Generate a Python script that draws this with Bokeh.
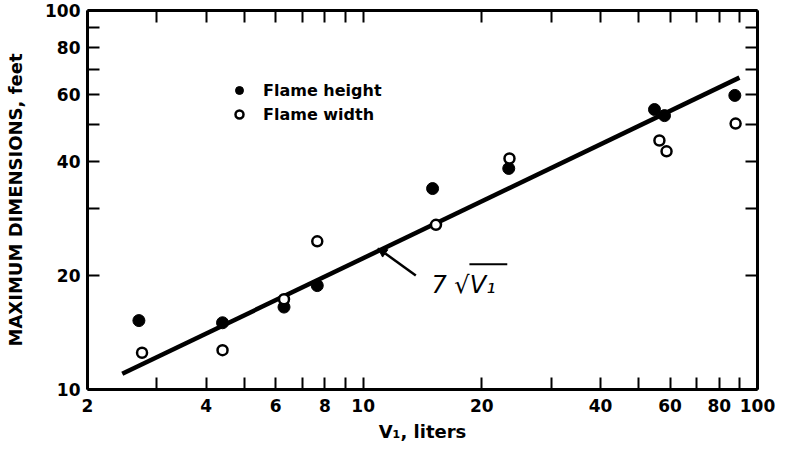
from bokeh.plotting import figure
from bokeh.models import (Range1d, LogAxis, FixedTicker, CustomJSTickFormatter, Legend,
                          LegendItem, Arrow, NormalHead, Label)
from bokeh.embed import file_html
from bokeh.resources import INLINE

# ---- data ----
height_x = [2.7, 4.4, 6.3, 7.65, 15.0, 23.4, 54.8, 58.1, 87.6]
height_y = [15.2, 15.0, 16.5, 18.8, 33.9, 38.3, 54.8, 52.8, 59.7]
width_x = [2.75, 4.4, 6.3, 7.65, 15.3, 23.5, 56.4, 58.8, 88.0]
width_y = [12.5, 12.7, 17.3, 24.6, 27.2, 40.7, 45.4, 42.5, 50.3]
fit_x = [2.45, 90.0]
fit_y = [11.0, 66.5]

x_major = [2, 4, 6, 8, 10, 20, 40, 60, 80, 100]
x_labels = ["2", "4", "6", "8", "10", "20", "40", "60", "80", "100"]
x_minor = [3, 5, 7, 9, 30, 50, 70, 90]
y_major = [10, 20, 40, 60, 80, 100]
y_labels = ["10", "20", "40", "60", "80", "100"]
y_minor = [30, 50, 70, 90]

FONT = "DejaVu Sans"

p = figure(frame_width=670, frame_height=379, x_axis_type="log", y_axis_type="log",
           x_range=Range1d(2, 100), y_range=Range1d(10, 100),
           output_backend="svg", toolbar_location=None,
           min_border_left=87, min_border_right=22, min_border_top=10, min_border_bottom=57)
p.grid.visible = False
p.outline_line_color = None
p.background_fill_color = "white"


def fmt(vals, labs):
    return CustomJSTickFormatter(args=dict(vals=vals, labs=labs),
                                 code="const i = vals.indexOf(tick); return i >= 0 ? labs[i] : '';")


def style(ax, labelled):
    ax.axis_line_width = 3
    ax.axis_line_color = "black"
    ax.major_tick_in = 12
    ax.major_tick_out = 0
    ax.minor_tick_in = 12
    ax.minor_tick_out = 0
    ax.major_tick_line_width = 2
    ax.minor_tick_line_width = 2
    ax.major_tick_line_color = "black"
    ax.minor_tick_line_color = "black"
    ax.major_label_text_font = FONT
    ax.major_label_text_font_size = "17px"
    ax.major_label_text_font_style = "bold"
    ax.major_label_text_color = "black"
    if not labelled:
        ax.major_label_standoff = 0
        ax.major_label_text_font_size = "1px"


xa = p.xaxis[0]
xa.ticker = FixedTicker(ticks=x_major, minor_ticks=x_minor)
xa.formatter = fmt(x_major, x_labels)
style(xa, True)
xa.major_label_standoff = 9
xa.axis_label = "V\u2081, liters"
xa.axis_label_text_font = FONT
xa.axis_label_text_font_size = "18px"
xa.axis_label_text_font_style = "bold"
xa.axis_label_text_color = "black"
xa.axis_label_standoff = 6

ya = p.yaxis[0]
ya.ticker = FixedTicker(ticks=y_major, minor_ticks=y_minor)
ya.formatter = fmt(y_major, y_labels)
style(ya, True)
ya.major_label_standoff = 7
ya.axis_label = "MAXIMUM DIMENSIONS, feet"
ya.axis_label_text_font = FONT
ya.axis_label_text_font_size = "18px"
ya.axis_label_text_font_style = "bold"
ya.axis_label_text_color = "black"
ya.axis_label_standoff = 16

top = LogAxis(ticker=FixedTicker(ticks=x_major, minor_ticks=x_minor),
              formatter=CustomJSTickFormatter(code="return '';"))
style(top, False)
p.add_layout(top, "above")
right = LogAxis(ticker=FixedTicker(ticks=y_major, minor_ticks=y_minor),
                formatter=CustomJSTickFormatter(code="return '';"))
style(right, False)
p.add_layout(right, "right")

p.line(fit_x, fit_y, line_color="black", line_width=4.5)
r1 = p.scatter(height_x, height_y, marker="circle", size=12,
               fill_color="black", line_color="black")
r2 = p.scatter(width_x, width_y, marker="circle", size=10,
               fill_color="white", line_color="black", line_width=2.5)

legend = Legend(items=[LegendItem(label="Flame height", renderers=[r1]),
                       LegendItem(label="Flame width", renderers=[r2])],
                location=(142, 265), border_line_color=None, background_fill_alpha=0,
                label_text_font=FONT, label_text_font_size="16px", label_text_font_style="bold",
                label_text_color="black",
                glyph_width=20, glyph_height=20, label_height=20, spacing=4,
                padding=0, margin=0, label_standoff=14)
p.add_layout(legend)

p.add_layout(Arrow(end=NormalHead(size=9, fill_color="black", line_color="black"),
                   x_start=13.6, y_start=20.0, x_end=10.9, y_end=23.6,
                   line_width=2.5, line_color="black"))
p.add_layout(Label(x=14.9, y=18.9, text="7 \u221aV\u2081", text_font=FONT,
                   text_font_style="italic", text_font_size="24px",
                   text_baseline="alphabetic", text_color="black"))
p.segment(x0=[18.6], y0=[21.4], x1=[23.2], y1=[21.4], line_color="black", line_width=2)

open("out.html", "w").write(file_html(p, INLINE))
